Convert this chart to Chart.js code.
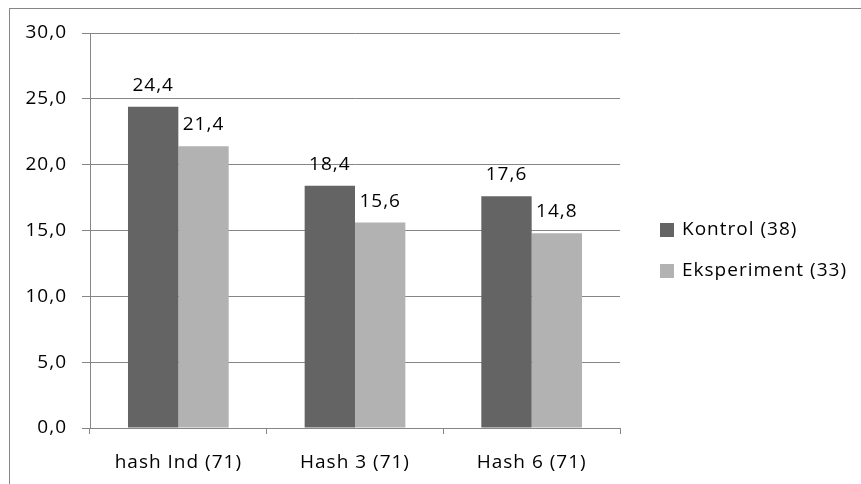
<!DOCTYPE html>
<html>
<head>
<meta charset="utf-8">
<script src="https://cdn.jsdelivr.net/npm/chart.js@4.4.0/dist/chart.umd.min.js"></script>
<style>
  html, body { margin: 0; padding: 0; background: #fff; }
  #wrap { width: 861px; height: 484px; }
</style>
</head>
<body>
<div id="wrap"><canvas id="chart" width="861" height="484"></canvas></div>
<script>
// данные
const categories = ['hash Ind (71)', 'Hash 3 (71)', 'Hash 6 (71)'];
const seriesNames = ['Kontrol (38)', 'Eksperiment (33)'];
const kontrolValues = [24.4, 18.4, 17.6];
const eksperimentValues = [21.4, 15.6, 14.8];
const yTicks = [0, 5, 10, 15, 20, 25, 30];

const FONT = '"Open Sans", "Liberation Sans", sans-serif';
const TEXT_SIZE = 19;
const fmt = v => v.toFixed(1).replace('.', ',');

// разрядка текста как в оригинале
const spacingPlugin = {
  id: 'spacing',
  beforeDraw(chart) {
    chart.ctx.letterSpacing = '1px';
  }
};

// рамка и легенда
const framePlugin = {
  id: 'frame',
  afterDraw(chart) {
    const ctx = chart.ctx;
    ctx.save();
    ctx.strokeStyle = '#868686';
    ctx.lineWidth = 1;
    ctx.strokeRect(9.5, 8.5, 900, 500);

    // легенда
    ctx.font = `${TEXT_SIZE}px ${FONT}`;
    ctx.textBaseline = 'middle';
    chart.data.datasets.forEach((ds, i) => {
      const y = 230 + i * 41;
      ctx.fillStyle = ds.backgroundColor;
      ctx.fillRect(660, y - 7, 14, 14);
      ctx.fillStyle = '#000';
      ctx.fillText(ds.label, 682, y);
    });
    ctx.restore();
  }
};

// подписи значений над столбцами
const valueLabels = {
  id: 'valueLabels',
  afterDatasetsDraw(chart) {
    const ctx = chart.ctx;
    ctx.save();
    ctx.font = `${TEXT_SIZE}px ${FONT}`;
    ctx.fillStyle = '#000';
    ctx.textAlign = 'center';
    ctx.textBaseline = 'alphabetic';
    chart.data.datasets.forEach((ds, i) => {
      chart.getDatasetMeta(i).data.forEach((bar, j) => {
        ctx.fillText(fmt(ds.data[j]), bar.x, bar.y - 16);
      });
    });
    ctx.restore();
  }
};

new Chart(document.getElementById('chart'), {
  type: 'bar',
  data: {
    labels: categories,
    datasets: [
      { label: seriesNames[0], data: kontrolValues, backgroundColor: '#646464' },
      { label: seriesNames[1], data: eksperimentValues, backgroundColor: '#b2b2b2' }
    ]
  },
  options: {
    responsive: false,
    animation: false,
    devicePixelRatio: 1,
    layout: { padding: { left: 0, top: 33, right: 241, bottom: 0 } },
    categoryPercentage: 0.57,
    barPercentage: 1,
    plugins: {
      legend: { display: false },
      tooltip: { enabled: false }
    },
    scales: {
      x: {
        afterFit: s => { s.height = 56; },
        grid: {
          offset: true,
          drawOnChartArea: false,
          drawTicks: true,
          tickLength: 6,
          color: '#868686'
        },
        border: { color: '#868686' },
        ticks: {
          color: '#000',
          font: { family: FONT, size: TEXT_SIZE },
          padding: 17
        }
      },
      y: {
        min: 0,
        max: 30,
        afterFit: s => { s.width = 90; },
        afterBuildTicks: s => { s.ticks = yTicks.map(v => ({ value: v })); },
        grid: {
          color: '#868686',
          tickLength: 8
        },
        border: { color: '#868686' },
        ticks: {
          color: '#000',
          font: { family: FONT, size: TEXT_SIZE },
          padding: 15,
          callback: v => fmt(v)
        }
      }
    }
  },
  plugins: [spacingPlugin, framePlugin, valueLabels]
});
</script>
</body>
</html>
